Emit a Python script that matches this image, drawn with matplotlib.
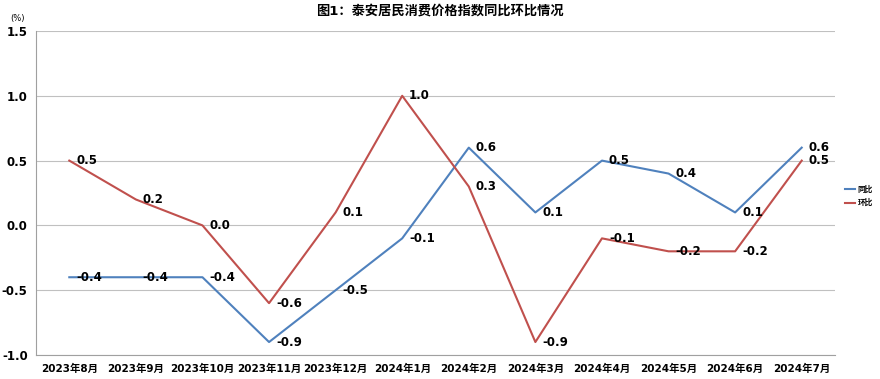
import matplotlib
matplotlib.use("Agg")
import matplotlib.pyplot as plt

plt.rcParams['font.family'] = ['DejaVu Sans', 'Noto Sans CJK SC']

categories = ["2023年8月", "2023年9月", "2023年10月", "2023年11月", "2023年12月", "2024年1月",
              "2024年2月", "2024年3月", "2024年4月", "2024年5月", "2024年6月", "2024年7月"]
yoy = [-0.4, -0.4, -0.4, -0.9, -0.5, -0.1, 0.6, 0.1, 0.5, 0.4, 0.1, 0.6]
mom = [0.5, 0.2, 0.0, -0.6, 0.1, 1.0, 0.3, -0.9, -0.1, -0.2, -0.2, 0.5]
series_names = ["同比", "环比"]
yticks = [-1.0, -0.5, 0.0, 0.5, 1.0, 1.5]

fig = plt.figure(figsize=(8.8, 3.79), dpi=100)
ax = fig.add_axes([36/880, 1-355/379, (835-36)/880, (355-31)/379])

x = list(range(len(categories)))
blue = "#4F81BD"
red = "#C0504D"
ax.plot(x, yoy, color=blue, lw=1.5, label=series_names[0], zorder=3)
ax.plot(x, mom, color=red, lw=1.5, label=series_names[1], zorder=3)

for xi, v in zip(x, yoy):
    ax.annotate(f"{v:.1f}", (xi, v), xytext=(5, 0), textcoords="offset points",
                ha="left", va="center", fontsize=8.5, fontweight="bold", zorder=4)
for xi, v in zip(x, mom):
    ax.annotate(f"{v:.1f}", (xi, v), xytext=(5, 0), textcoords="offset points",
                ha="left", va="center", fontsize=8.5, fontweight="bold", zorder=4)

ax.set_xlim(-0.5, len(categories) - 0.5)
ax.set_ylim(-1.0, 1.5)
ax.set_yticks(yticks)
ax.set_yticklabels([f"{t:.1f}" for t in yticks], fontsize=8.5, fontweight="bold")
ax.set_xticks(x)
ax.set_xticklabels(categories, fontsize=7.5, fontweight="bold")
ax.tick_params(axis="both", length=0, pad=6)
ax.grid(axis="y", color="#c0c0c0", lw=0.8)
for s in ["top", "right"]:
    ax.spines[s].set_visible(False)
ax.spines["left"].set_color("#a0a0a0")
ax.spines["bottom"].set_color("#a0a0a0")

fig.text(440/880, 1-11/379, "图1：泰安居民消费价格指数同比环比情况", ha="center", va="center",
         fontsize=9.5, fontweight="bold")
fig.text(10/880, 1-18/379, "(%)", ha="left", va="center", fontsize=6)

leg = ax.legend(loc="center left", bbox_to_anchor=(844/880, 1-196/379), bbox_transform=fig.transFigure,
                frameon=False, handlelength=1.4, handletextpad=0.3, labelspacing=0.6,
                borderpad=0.1, borderaxespad=0,
                prop={'size': 5.5, 'weight': 'bold'})

fig.savefig("out.png", dpi=100)
